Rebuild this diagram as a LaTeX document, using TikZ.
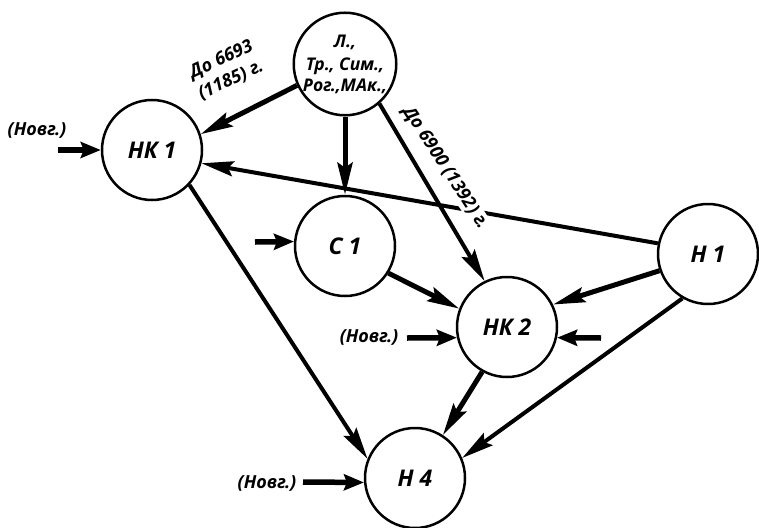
\documentclass[tikz,border=0pt]{standalone}
\usepackage{fontspec}
\setmainfont{Open Sans}
\usetikzlibrary{arrows.meta}
\newcommand{\novg}{(Новг.)}

\begin{document}
\begin{tikzpicture}[x=1pt, y=-1pt,
  every node/.style={font=\bfseries\itshape},
  src/.style={circle, draw, line width=2.5pt, minimum size=100pt, inner sep=0pt, font=\bfseries\itshape\fontsize{23}{27}\selectfont},
  link/.style={line width=4pt, -{Stealth[length=32pt, width=15pt, inset=5pt]}},
  heavy/.style={link, line width=5pt},
  feed/.style={line width=5.5pt, -{Stealth[length=20pt, width=16pt, inset=3pt]}},
  tag/.style={font=\bfseries\itshape\fontsize{18}{21}\selectfont, inner sep=1pt}]
  \useasboundingbox (0,0) rectangle (759,527);
  \node[src, align=center, font=\bfseries\itshape\fontsize{17.5}{21}\selectfont] (top) at (345,64) {Л.,\\[2pt]Тр., Сим.,\\Рог.,МАк.,};
  \node[src] (nk1) at (152,150) {НК 1};
  \node[src] (c1) at (345,246) {С 1};
  \node[src] (nk2) at (507,327) {НК 2};
  \node[src] (h1) at (708,254) {Н 1};
  \node[src] (h4) at (415,478) {Н 4};
  \draw[heavy] (top.204) -- (nk1.18);
  \draw[heavy] (top.south) -- (c1.north);
  \draw[link] (h1.168) -- (nk1.-15);
  \node[tag, fill=white, rotate=-57] (lbl-late) at (445,168) {До 6900 (1392) г.};
  \draw[link] (top.-49) -- (nk2.116);
  \node[tag, rotate=25, align=center] (lbl-early) at (226,70) {До 6693\\[2pt](1185) г.};
  \draw[heavy] (h1.199) -- (nk2.26);
  \draw[link] (h1.240) -- (h4.23);
  \draw[heavy] (nk2.241) -- (h4.57);
  \draw[link] (nk1.-43) -- (h4.158);
  \draw[heavy] (c1.-32) -- (nk2.159);
  \coordinate (nk1-in) at (58,150);
  \coordinate (c1-in) at (255,242);
  \coordinate (nk2-in) at (407,338);
  \coordinate (nk2-rin) at (601,338);
  \coordinate (h4-in) at (303,482);
  \draw[feed] (nk1-in) -- (nk1.west);
  \draw[feed] (c1-in) -- (c1.175);
  \draw[feed] (nk2-in) -- (nk2.192);
  \draw[feed] (nk2-rin) -- (nk2.-12);
  \draw[feed] (h4-in) -- (h4.185);
  \node[tag] (nk1-src) at (37,130) {\novg};
  \node[tag] (nk2-src) at (369,337) {\novg};
  \node[tag] (h4-src) at (267,483) {\novg};
\end{tikzpicture}
\end{document}
